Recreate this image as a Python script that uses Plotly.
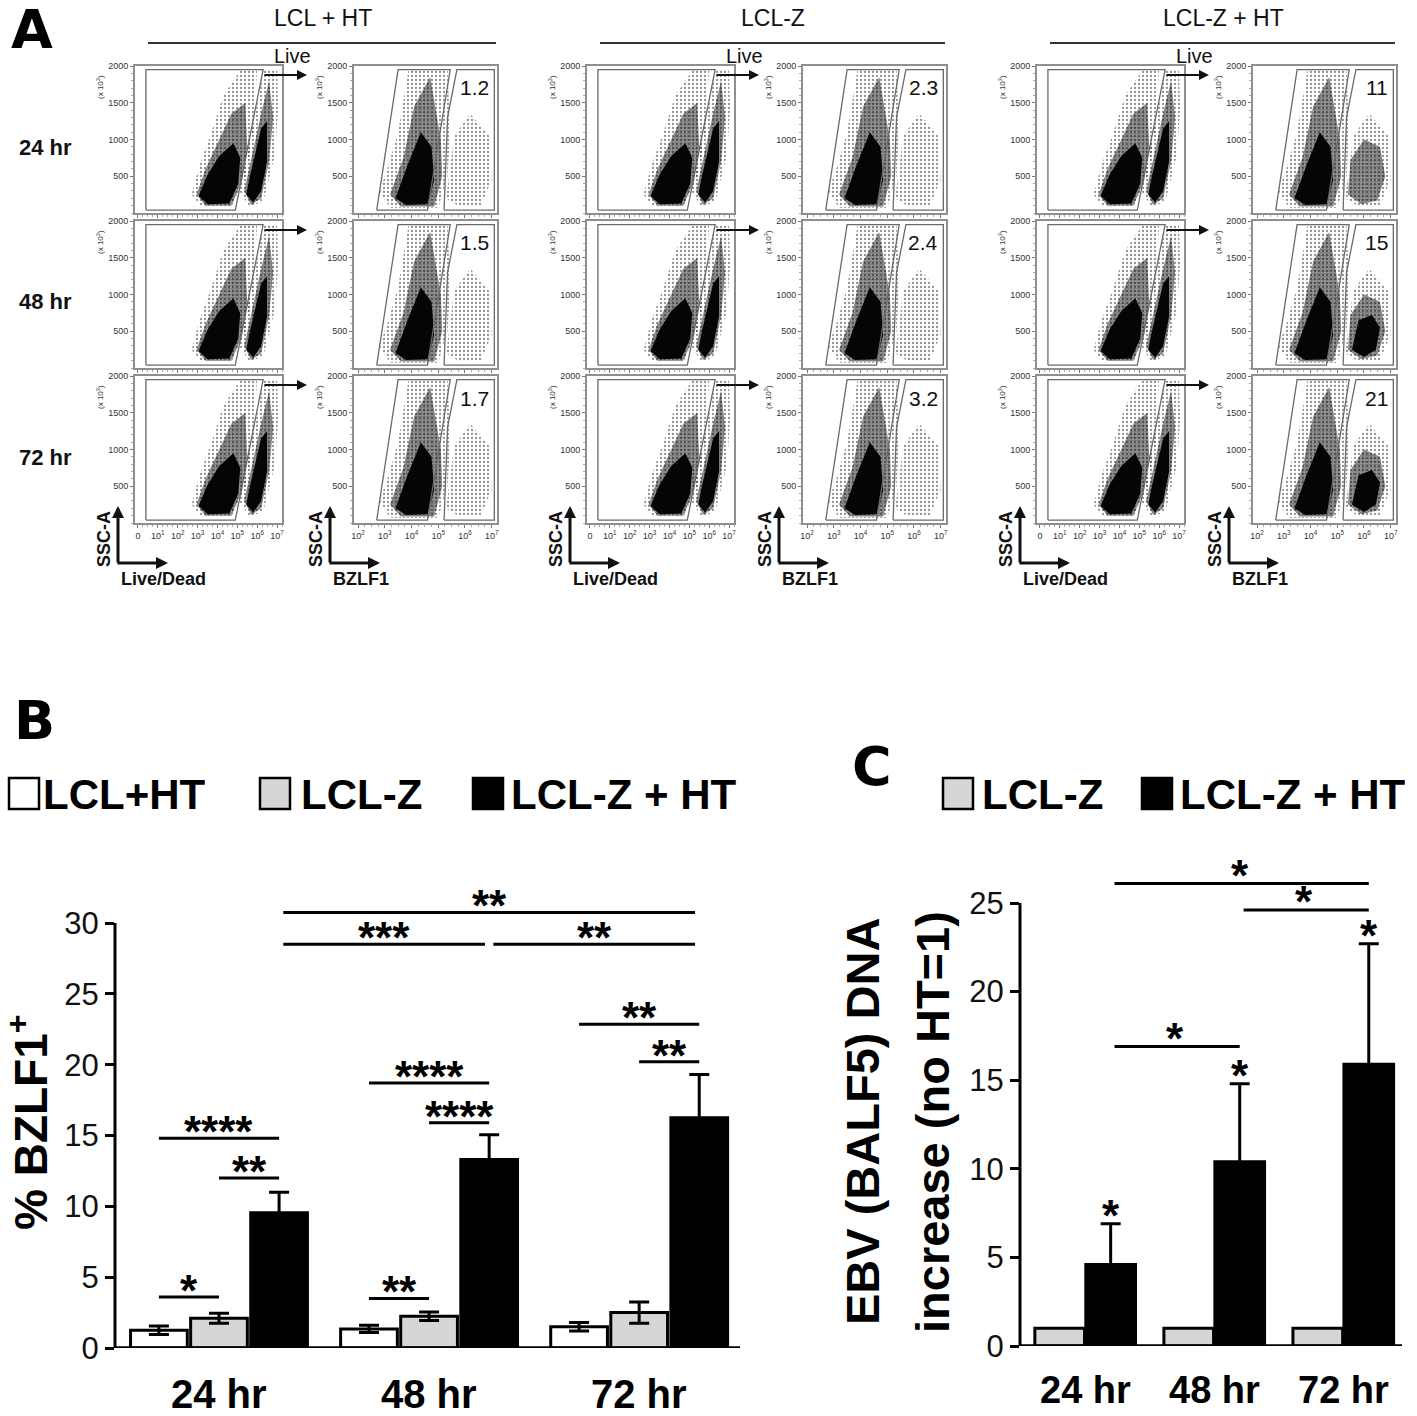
import plotly.graph_objects as go

W, H = 1417, 1416

# ---- panel A data ----
TIMES = ["24 hr", "48 hr", "72 hr"]
CONDITIONS = ["LCL + HT", "LCL-Z", "LCL-Z + HT"]
PCT_LCL_HT = [1.2, 1.5, 1.7]
PCT_LCLZ = [2.3, 2.4, 3.2]
PCT_LCLZ_HT = [11, 15, 21]

LD_TICKS = [0, 1, 2, 3, 4, 5, 6, 7]
LD_TICKTEXT = ["0", "10<sup>1</sup>", "10<sup>2</sup>", "10<sup>3</sup>",
               "10<sup>4</sup>", "10<sup>5</sup>", "10<sup>6</sup>", "10<sup>7</sup>"]
BZ_TICKS = [2, 3, 4, 5, 6, 7]
BZ_TICKTEXT = ["10<sup>2</sup>", "10<sup>3</sup>", "10<sup>4</sup>",
               "10<sup>5</sup>", "10<sup>6</sup>", "10<sup>7</sup>"]
SSC_TICKS = [500, 1000, 1500, 2000]

# cell clouds (log10 fluorescence, SSC-A x 10^3)
LIVE_HALO_X = [2.7, 3.2, 4.7, 5.4, 5.8, 6.0, 5.2, 4.3, 3.7, 3.1, 2.7]
LIVE_HALO_Y = [250, 80, 80, 500, 1100, 1960, 1960, 1600, 1100, 650, 250]
LIVE_MID_X = [2.95, 3.4, 4.7, 5.25, 5.5, 5.4, 4.7, 4.0, 3.4, 2.95]
LIVE_MID_Y = [250, 100, 100, 450, 900, 1500, 1350, 950, 600, 250]
LIVE_CORE_X = [3.05, 3.5, 4.6, 5.05, 5.15, 4.8, 4.1, 3.5, 3.05]
LIVE_CORE_Y = [230, 120, 130, 400, 750, 950, 780, 520, 230]
DEAD_HALO_X = [5.1, 5.6, 6.3, 6.9, 7.05, 7.0, 6.3, 5.8, 5.3, 5.1]
DEAD_HALO_Y = [300, 90, 150, 800, 1400, 1960, 1960, 1200, 700, 300]
DEAD_MID_X = [5.35, 5.7, 6.2, 6.6, 6.8, 6.6, 6.2, 5.7, 5.35]
DEAD_MID_Y = [300, 110, 200, 700, 1300, 1800, 1350, 750, 300]
DEAD_CORE_X = [5.45, 5.8, 6.2, 6.5, 6.5, 6.2, 5.65, 5.45]
DEAD_CORE_Y = [250, 140, 300, 700, 1250, 1150, 520, 250]

NEG_HALO_X = [2.8, 3.2, 5.0, 5.35, 5.45, 5.35, 3.9, 3.5, 3.1, 2.8]
NEG_HALO_Y = [300, 70, 70, 500, 1100, 1960, 1960, 1100, 600, 300]
NEG_MID_X = [3.2, 3.6, 4.85, 5.15, 5.1, 4.7, 4.1, 3.7, 3.2]
NEG_MID_Y = [250, 90, 90, 500, 1000, 1850, 1450, 750, 250]
NEG_CORE_X = [3.4, 3.8, 4.6, 4.85, 4.75, 4.35, 3.85, 3.4]
NEG_CORE_Y = [200, 110, 120, 450, 900, 1100, 650, 200]
POS_HALO_X = [5.3, 5.8, 6.6, 7.0, 6.9, 6.2, 5.6, 5.3]
POS_HALO_Y = [200, 90, 110, 450, 1050, 1350, 1050, 200]
POS_MID_X = [5.4, 5.9, 6.5, 6.8, 6.6, 6.0, 5.5, 5.4]
POS_MID_Y = [250, 120, 170, 500, 900, 1000, 720, 250]
POS_CORE_X = [5.55, 6.0, 6.45, 6.6, 6.3, 5.8, 5.55]
POS_CORE_Y = [250, 150, 250, 550, 720, 650, 250]

# gates
LIVE_GATE_X = [0.4, 4.9, 6.3, 0.4, 0.4]
LIVE_GATE_Y = [40, 40, 1950, 1950, 40]
NEG_GATE_X = [2.7, 4.6, 5.45, 3.5, 2.7]
NEG_GATE_Y = [40, 40, 1950, 1950, 40]
POS_GATE_X = [5.22, 7.1, 7.1, 5.7, 5.35, 5.22]
POS_GATE_Y = [40, 40, 1950, 1950, 1300, 40]

# ---- panel B data ----
B_SERIES = ["LCL+HT", "LCL-Z", "LCL-Z + HT"]
B_LCL_HT = [1.25, 1.35, 1.5]
B_LCL_HT_ERR = [0.3, 0.25, 0.3]
B_LCLZ = [2.1, 2.25, 2.5]
B_LCLZ_ERR = [0.35, 0.3, 0.75]
B_LCLZ_HT = [9.55, 13.3, 16.25]
B_LCLZ_HT_ERR = [1.45, 1.75, 3.05]
B_TICKS = [0, 5, 10, 15, 20, 25, 30]
# (time from, bar from, time to, bar to, height, label)
B_SIG = [
    (0, 0, 0, 1, 3.6, "*"), (0, 1, 0, 2, 12.0, "**"), (0, 0, 0, 2, 14.8, "****"),
    (1, 0, 1, 1, 3.5, "**"), (1, 1, 1, 2, 15.9, "****"), (1, 0, 1, 2, 18.7, "****"),
    (2, 1, 2, 2, 20.2, "**"), (2, 0, 2, 2, 22.85, "**"),
    (0, 2, 1, 2, 28.5, "***"), (1, 2, 2, 2, 28.5, "**"), (0, 2, 2, 2, 30.75, "**"),
]

# ---- panel C data ----
C_SERIES = ["LCL-Z", "LCL-Z + HT"]
C_LCLZ = [1, 1, 1]
C_LCLZ_HT = [4.6, 10.4, 15.9]
C_LCLZ_HT_ERR = [2.3, 4.4, 6.8]
C_TICKS = [0, 5, 10, 15, 20, 25]
C_SIG = [(0, 1, 16.9, "*"), (1, 2, 24.6, "*"), (0, 2, 26.1, "*")]

FONT = "Liberation Sans"
FRAME = "#8f8f8f"
GATE = "#6a6a6a"


def px_x(p):
    return p / W


def px_y(p):
    return 1 - p / H


def ax_id(n):
    return ("x" if n == 1 else f"x{n}"), ("y" if n == 1 else f"y{n}")


def note(**kw):
    kw.setdefault("xanchor", "center")
    kw.setdefault("yanchor", "middle")
    kw.setdefault("showarrow", False)
    kw.setdefault("xref", "paper")
    kw.setdefault("yref", "paper")
    annotations.append(kw)


def cloud(n, xs, ys, layer):
    xr, yr = ax_id(n)
    tr = dict(x=xs, y=ys, xaxis=xr, yaxis=yr, mode="lines", fill="toself",
              line=dict(width=0), showlegend=False, hoverinfo="skip")
    if layer == "core":
        tr["fillcolor"] = "#050505"
    elif layer == "mid":
        tr["fillcolor"] = "rgba(0,0,0,0)"
        tr["fillpattern"] = dict(shape=".", size=3, solidity=0.85,
                                 fgcolor="#000", bgcolor="rgba(0,0,0,0)")
    else:
        tr["fillcolor"] = "rgba(0,0,0,0)"
        tr["fillpattern"] = dict(shape=".", size=4, solidity=0.25,
                                 fgcolor="#222", bgcolor="rgba(0,0,0,0)")
    fig.add_trace(go.Scatter(**tr))


def gate(n, xs, ys):
    xr, yr = ax_id(n)
    fig.add_trace(go.Scatter(x=xs, y=ys, xaxis=xr, yaxis=yr, mode="lines",
                             line=dict(color=GATE, width=1.3),
                             showlegend=False, hoverinfo="skip"))


fig = go.Figure()
layout = {}
annotations = []
shapes = []

LD_LEFT = [135, 587, 1037]
BZ_LEFT = [354, 803, 1253]
LD_W, BZ_W = 147, 143
ROW_TOP = [66, 221, 376]
ROW_H = 147
PCTS = [PCT_LCL_HT, PCT_LCLZ, PCT_LCLZ_HT]


def flow_axes(n, left, width, top, xrange, ticks, ticktext, bottom):
    xk = "xaxis" if n == 1 else f"xaxis{n}"
    yk = "yaxis" if n == 1 else f"yaxis{n}"
    xr, yr = ax_id(n)
    layout[xk] = dict(domain=[px_x(left), px_x(left + width)], range=xrange,
                      anchor=yr, automargin=False, showline=True, mirror=True,
                      linecolor=FRAME, linewidth=2, showgrid=False,
                      zeroline=False, tickvals=ticks, ticktext=ticktext,
                      showticklabels=bottom, ticks="outside", ticklen=3,
                      tickcolor="#777", tickfont=dict(size=9, color="#333"),
                      minor=dict(ticks="outside", ticklen=2, dtick=0.25,
                                 tickcolor="#aaa"))
    layout[yk] = dict(domain=[px_y(top + ROW_H), px_y(top)], range=[0, 2000],
                      anchor=xr, automargin=False, showline=True, mirror=True,
                      linecolor=FRAME, linewidth=2, showgrid=False,
                      zeroline=False, tickvals=SSC_TICKS, ticks="outside",
                      ticklen=3, tickcolor="#777",
                      tickfont=dict(size=9, color="#333"),
                      minor=dict(ticks="outside", ticklen=2, dtick=100,
                                 tickcolor="#aaa"))
    note(text="(x 10<sup>3</sup>)", textangle=-90, x=px_x(left - 35),
         y=px_y(top + 21), font=dict(size=8, color="#333"))


n = 0
for ci, cond in enumerate(CONDITIONS):
    ld0, bz0 = LD_LEFT[ci], BZ_LEFT[ci]
    for ri, t in enumerate(TIMES):
        top = ROW_TOP[ri]
        bottom = ri == len(TIMES) - 1
        # Live/Dead plot
        n += 1
        flow_axes(n, ld0, LD_W, top, [-0.15, 7.25], LD_TICKS, LD_TICKTEXT, bottom)
        cloud(n, LIVE_HALO_X, LIVE_HALO_Y, "halo")
        cloud(n, DEAD_HALO_X, DEAD_HALO_Y, "halo")
        cloud(n, LIVE_MID_X, LIVE_MID_Y, "mid")
        cloud(n, DEAD_MID_X, DEAD_MID_Y, "mid")
        cloud(n, LIVE_CORE_X, LIVE_CORE_Y, "core")
        cloud(n, DEAD_CORE_X, DEAD_CORE_Y, "core")
        gate(n, LIVE_GATE_X, LIVE_GATE_Y)
        # BZLF1 plot
        n += 1
        pct = PCTS[ci][ri]
        flow_axes(n, bz0, BZ_W, top, [1.85, 7.2], BZ_TICKS, BZ_TICKTEXT, bottom)
        cloud(n, NEG_HALO_X, NEG_HALO_Y, "halo")
        cloud(n, POS_HALO_X, POS_HALO_Y, "halo")
        cloud(n, NEG_MID_X, NEG_MID_Y, "mid")
        if pct > 5:
            cloud(n, POS_MID_X, POS_MID_Y, "mid")
        cloud(n, NEG_CORE_X, NEG_CORE_Y, "core")
        if pct > 12:
            cloud(n, POS_CORE_X, POS_CORE_Y, "core")
        gate(n, NEG_GATE_X, NEG_GATE_Y)
        gate(n, POS_GATE_X, POS_GATE_Y)
        note(text=f"{pct:g}", x=px_x(bz0 + BZ_W - 6), y=px_y(top + 22),
             xanchor="right", font=dict(size=21, color="#111"))
        # gating arrow
        note(text="", x=px_x(ld0 + 172), y=px_y(top + 9), ax=-44, ay=0,
             showarrow=True, arrowhead=2, arrowsize=1, arrowwidth=2,
             arrowcolor="#111")
        if ri == 0:
            note(text="Live", x=px_x(ld0 + 157), y=px_y(56),
                 font=dict(size=20, color="#111"))
    # condition header
    note(text=cond, x=px_x((ld0 + 13 + bz0 + BZ_W) / 2), y=px_y(18),
         font=dict(size=23, color="#111"))
    shapes.append(dict(type="line", xref="paper", yref="paper",
                       x0=px_x(ld0 + 13), x1=px_x(bz0 + BZ_W - 1),
                       y0=px_y(43), y1=px_y(43),
                       line=dict(color="#333", width=2)))
    # axis name arrows below the bottom row
    for base, name in ((ld0 - 17, "Live/Dead"), (bz0 - 24, "BZLF1")):
        note(text="<b>SSC-A</b>", textangle=-90, x=px_x(base - 14),
             y=px_y(539), font=dict(size=18, color="#111"))
        note(text="", x=px_x(base), y=px_y(506), ax=0, ay=58, showarrow=True,
             arrowhead=2, arrowsize=0.8, arrowwidth=3, arrowcolor="#111")
        note(text="", x=px_x(base + 50), y=px_y(563), ax=-52, ay=0,
             showarrow=True, arrowhead=2, arrowsize=0.8, arrowwidth=3,
             arrowcolor="#111")
        note(text="<b>" + name + "</b>", x=px_x(base + 1), y=px_y(579),
             xanchor="left", font=dict(size=18, color="#111"))

for ri, t in enumerate(TIMES):
    note(text="<b>" + t + "</b>", x=px_x(45), y=px_y(ROW_TOP[ri] + 81),
         font=dict(size=22, color="#111"))

# ---- panel B ----
B_ZERO, B_30 = 1348, 923
b_scale = (B_ZERO - B_30) / 30
b_top = 878
layout["xaxis19"] = dict(domain=[px_x(115), px_x(740)], range=[-0.495, 2.48],
                         anchor="y19", automargin=False, showline=False,
                         showgrid=False, zeroline=False, showticklabels=False,
                         ticks="")
layout["yaxis19"] = dict(domain=[px_y(B_ZERO), px_y(b_top)],
                         range=[0, (B_ZERO - b_top) / b_scale], anchor="x19",
                         automargin=False, showline=False, showgrid=False,
                         zeroline=False, tickvals=B_TICKS, ticks="outside",
                         ticklen=9, tickwidth=2.5, tickcolor="black",
                         tickfont=dict(size=31, color="#111"))
B_CENTERS = [-0.286, 0.0, 0.286]
B_COLORS = ["white", "#d6d6d6", "black"]
B_VALUES = [B_LCL_HT, B_LCLZ, B_LCLZ_HT]
B_ERRS = [B_LCL_HT_ERR, B_LCLZ_ERR, B_LCLZ_HT_ERR]
B_W = 0.27
for k in range(3):
    fig.add_trace(go.Bar(x=[0, 1, 2], y=B_VALUES[k], width=B_W,
                         offset=B_CENTERS[k] - B_W / 2, xaxis="x19", yaxis="y19",
                         marker=dict(color=B_COLORS[k],
                                     line=dict(color="black", width=3)),
                         error_y=dict(type="data", array=B_ERRS[k],
                                      color="black", thickness=3, width=10),
                         showlegend=False, hoverinfo="skip"))
shapes.append(dict(type="line", xref="x19 domain", yref="y19", x0=0, x1=0,
                   y0=0, y1=30, line=dict(color="black", width=3)))
shapes.append(dict(type="line", xref="x19 domain", yref="y19", x0=0, x1=1,
                   y0=0, y1=0, line=dict(color="black", width=3.5)))
for t0, b0, t1, b1, yv, lab in B_SIG:
    xa = t0 + B_CENTERS[b0]
    xb = t1 + B_CENTERS[b1]
    trim = 0.02 if t0 != t1 else 0.0
    shapes.append(dict(type="line", xref="x19", yref="y19", x0=xa + trim,
                       x1=xb - trim, y0=yv, y1=yv,
                       line=dict(color="black", width=3)))
    note(text="<b>" + lab + "</b>", x=(xa + xb) / 2, y=yv, xref="x19",
         yref="y19", yanchor="bottom", yshift=-20,
         font=dict(size=44, color="black"))
for i, t in enumerate(TIMES):
    note(text="<b>" + t + "</b>", x=i, y=px_y(1394), xref="x19",
         font=dict(size=40, color="black"))
note(text="<b>% BZLF1<sup>+</sup></b>", textangle=-90, x=px_x(28),
     y=px_y(1122), font=dict(size=46, color="black"))

# ---- panel C ----
C_ZERO, C_25 = 1346, 903
c_scale = (C_ZERO - C_25) / 25
c_top = 845
layout["xaxis20"] = dict(domain=[px_x(1020), px_x(1402)], range=[-0.51, 2.45],
                         anchor="y20", automargin=False, showline=False,
                         showgrid=False, zeroline=False, showticklabels=False,
                         ticks="")
layout["yaxis20"] = dict(domain=[px_y(C_ZERO), px_y(c_top)],
                         range=[0, (C_ZERO - c_top) / c_scale], anchor="x20",
                         automargin=False, showline=False, showgrid=False,
                         zeroline=False, tickvals=C_TICKS, ticks="outside",
                         ticklen=9, tickwidth=2.5, tickcolor="black",
                         tickfont=dict(size=31, color="#111"))
C_W = 0.385
fig.add_trace(go.Bar(x=[0, 1, 2], y=C_LCLZ, width=C_W, offset=-C_W - 0.01,
                     xaxis="x20", yaxis="y20",
                     marker=dict(color="#d6d6d6", line=dict(color="black", width=3)),
                     showlegend=False, hoverinfo="skip"))
fig.add_trace(go.Bar(x=[0, 1, 2], y=C_LCLZ_HT, width=C_W, offset=0.0,
                     xaxis="x20", yaxis="y20",
                     marker=dict(color="black", line=dict(color="black", width=3)),
                     error_y=dict(type="data", array=C_LCLZ_HT_ERR, color="black",
                                  thickness=3, width=10),
                     showlegend=False, hoverinfo="skip"))
shapes.append(dict(type="line", xref="x20 domain", yref="y20", x0=0, x1=0,
                   y0=0, y1=25, line=dict(color="black", width=3)))
shapes.append(dict(type="line", xref="x20 domain", yref="y20", x0=0, x1=1,
                   y0=0, y1=0, line=dict(color="black", width=3.5)))
c_black = C_W / 2
for i in range(3):
    note(text="<b>*</b>", x=i + c_black, y=C_LCLZ_HT[i] + C_LCLZ_HT_ERR[i],
         xref="x20", yref="y20", yanchor="bottom", yshift=-18,
         font=dict(size=44, color="black"))
for t0, t1, yv, lab in C_SIG:
    xa, xb = t0 + c_black, t1 + c_black
    shapes.append(dict(type="line", xref="x20", yref="y20", x0=xa + 0.03,
                       x1=xb, y0=yv, y1=yv, line=dict(color="black", width=3)))
    note(text="<b>" + lab + "</b>", x=(xa + xb) / 2, y=yv, xref="x20",
         yref="y20", yanchor="bottom", yshift=-18,
         font=dict(size=44, color="black"))
for i, t in enumerate(TIMES):
    note(text="<b>" + t + "</b>", x=i, y=px_y(1390), xref="x20",
         font=dict(size=38, color="black"))
note(text="<b>EBV (BALF5) DNA</b>", textangle=-90, x=px_x(862), y=px_y(1122),
     font=dict(size=47, color="black"))
note(text="<b>increase (no HT=1)</b>", textangle=-90, x=px_x(932),
     y=px_y(1122), font=dict(size=47, color="black"))

# ---- legends ----
for x0, fill, x_text, name in ((9, "white", 41, B_SERIES[0]),
                               (260, "#d6d6d6", 299, B_SERIES[1]),
                               (473, "black", 509, B_SERIES[2]),
                               (943, "#d6d6d6", 980, C_SERIES[0]),
                               (1142, "black", 1178, C_SERIES[1])):
    shapes.append(dict(type="rect", xref="paper", yref="paper",
                       x0=px_x(x0), x1=px_x(x0 + 30), y0=px_y(809), y1=px_y(778),
                       fillcolor=fill, line=dict(color="black", width=2.5)))
    note(text="<b>" + name + "</b>", x=px_x(x_text), y=px_y(794),
         xanchor="left", font=dict(size=42, color="black"))

# ---- panel letters ----
for letter, lx, ly in (("A", 32, 30), ("B", 34, 720), ("C", 872, 766)):
    note(text="<b>" + letter + "</b>", x=px_x(lx), y=px_y(ly),
         font=dict(family="DejaVu Sans", size=54, color="black"))

fig.update_layout(width=W, height=H,
                  margin=dict(l=0, r=0, t=0, b=0, autoexpand=False),
                  paper_bgcolor="white", plot_bgcolor="white",
                  barmode="overlay", font=dict(family=FONT, color="black"),
                  showlegend=False, annotations=annotations, shapes=shapes,
                  **layout)
# the page's default body margin would push the figure 8px right and down
fig.write_html("out.html", config={"displayModeBar": False},
               post_script="document.body.style.margin = '0';")
